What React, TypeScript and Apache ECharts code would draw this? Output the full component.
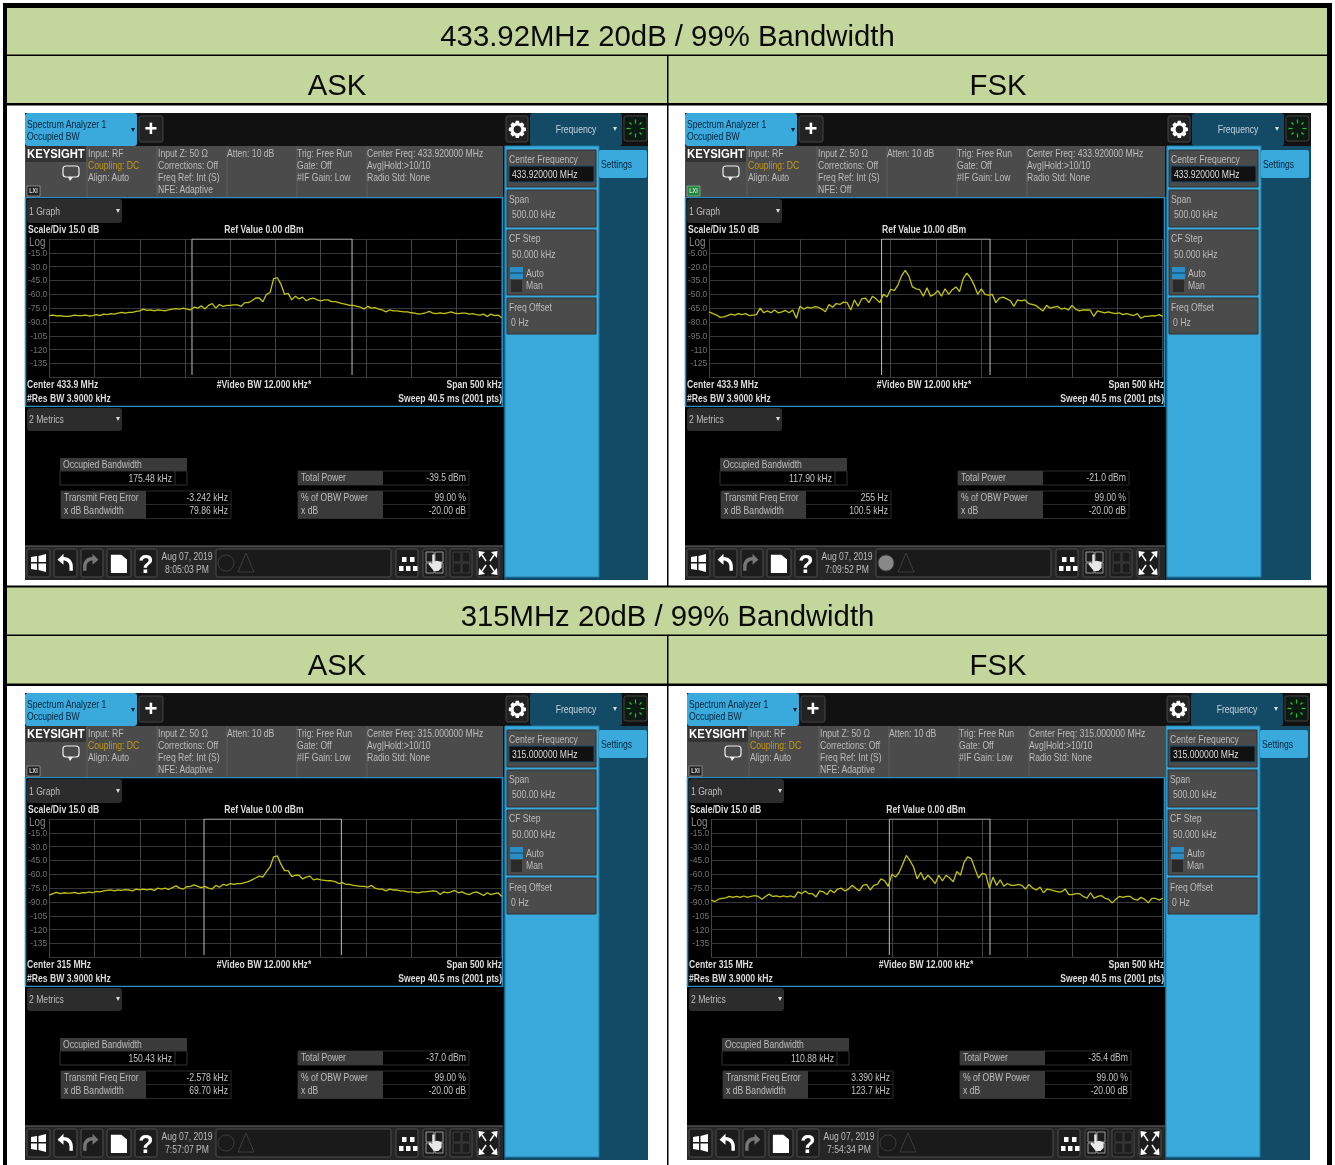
import React, { useEffect, useRef } from "react";
import * as echarts from "echarts";

// ---- data (dBm, evenly spaced across the 500 kHz span) ----
const trace433Ask = [
  -83,-82.5,-83.5,-83,-84,-84,-83.5,-82.5,-83,-83,-82.5,-83.5,-83,-82,-83,-81.5,-82,-81,-81.5,-80.5,
  -79.5,-80.5,-79.5,-79.5,-78.5,-78,-76,-77.5,-77,-78,-77,-77.5,-78,-77,-76,-75.5,-76,-75,-76,-77,
  -74,-75,-72.5,-76,-72,-70,-75,-71,-73,-72,-72,-71.5,-71.5,-73,-69,-69,-67,-64,-64,-68,
  -60,-58,-43,-42,-49,-60,-59,-66,-62,-65,-63,-67,-65,-64,-66,-67,-66,-66,-68,-68,
  -69,-70,-71,-72,-72,-73,-74,-76,-73,-75,-74.5,-76,-77,-79,-77,-78,-78,-78.5,-79,-79,
  -80,-80.5,-81.5,-81,-80,-78.5,-80.5,-81,-80,-81,-80,-79,-80.5,-81,-80.5,-80.5,-81.5,-81,-82,-82.5,
  -81.5,-84,-81.5,-83,-82.5,-85.5,
];
const trace433Fsk = [
  -69,-71,-72.5,-75,-74.5,-73,-71.5,-72.5,-71,-72,-71,-73,-72.5,-72,-65,-70,-68,-70,-67,-70,
  -69,-67.5,-70,-67,-76,-63,-66,-64,-65,-63.5,-64,-66,-69,-61,-64,-60,-61,-58.5,-59,-67,
  -56,-63,-55,-54,-59,-52,-55,-59,-50,-53,-44.5,-46,-40,-30,-24,-30,-42,-44,-45,-52,
  -43,-52,-50,-46,-52,-44,-50,-45,-42,-47,-33,-27,-32,-40,-50,-44,-50,-51,-50,-59,
  -54,-53,-55,-57,-63,-56,-57,-56,-60,-61,-62,-65,-68,-62,-65,-64,-63,-66,-65,-67,
  -62,-66,-68,-67,-67,-67,-74,-68,-69,-70,-69,-70,-71,-70,-72,-71,-72,-73,-71,-76,
  -74,-74,-73,-73.5,-72,-74,
];
const trace315Ask = [
  -82.5,-81,-79.5,-81,-80,-80.5,-80.5,-79.5,-81,-80,-80,-79,-80,-78.5,-79,-78,-77.5,-77,-78,-77,
  -77.5,-76.5,-77,-78,-76,-77,-76,-77,-76,-77.5,-75,-76,-75,-76.5,-74.5,-72.5,-75,-76,-73.5,-73,
  -71.5,-73,-74.5,-73,-75,-76,-72,-74,-71,-72,-70,-71,-70,-70,-69,-68,-66,-64,-62,-63,
  -57,-52,-41,-40,-49,-56,-56,-62.5,-61,-61,-65,-63,-62,-66,-65,-66,-66.5,-67,-67,-68,
  -70,-69,-71,-71,-72,-72.5,-73,-73,-74,-72,-75,-76,-76,-78,-76,-77,-77,-78,-78,-79,
  -79,-79.5,-80,-79,-79,-78.5,-78,-78.5,-82,-79,-80,-79,-77.5,-80,-79,-81,-82,-80,-79,-81,
  -83,-80,-82,-81,-80,-84,
];
const trace315Fsk = [
  -88,-89.5,-87,-86,-85.5,-84,-85,-84,-85,-83.5,-85,-84,-83,-84,-87,-84,-81.5,-84,-83.5,-84.5,
  -83.5,-84.5,-83.5,-85,-79,-81,-78,-81,-81,-84.5,-78,-79,-82,-77,-80,-76,-75,-78,-76,-72,
  -75,-78,-72,-71,-77,-72,-71,-65,-67,-73,-60,-63,-58,-49,-39.5,-45,-52,-65,-58,-66,
  -61,-65,-70,-61,-67,-61,-64,-68,-57,-61,-47,-41,-43,-54,-64,-59,-60,-75,-63,-72,
  -66,-73,-70,-72,-72,-71,-72,-76,-71,-75,-77,-74,-80,-76,-77,-78,-79,-79,-76,-82,
  -82,-81,-81,-84,-86,-80,-86,-84,-83,-86,-87,-91,-87,-84,-85,-84,-84,-87,-88,-85,
  -87,-91,-86,-86,-88,-86,
];
const ticksRef0 = ["", "-15.0", "-30.0", "-45.0", "-60.0", "-75.0", "-90.0", "-105", "-120", "-135", ""];
const ticksRef10 = ["", "-5.00", "-20.0", "-35.0", "-50.0", "-65.0", "-80.0", "-95.0", "-110", "-125", ""];
const obw433Ask = [-92.3, 84.6];
const obw433Fsk = [-60, 59.6];
const obw315Ask = [-79, 72.8];
const obw315Fsk = [-52.8, 58.7];
const tableTitles = ["433.92MHz 20dB / 99% Bandwidth", "315MHz 20dB / 99% Bandwidth"];
const modulations = ["ASK", "FSK"];

type P = {
  dxL: number; dxR: number; dy: number; right: number; plotL: number; plotR: number; winR: number;
  data: number[]; ref: number; ticks: string[]; obw: number[];
  mhz: string; cfText: string; nfe: string; refText: string;
  occ: string; power: string; err: string; xdb: string; time: string; lxiGreen?: boolean; bubble?: boolean;
};
const panels: P[] = [
  { dxL: 0, dxR: 0, dy: 0, right: 648, plotL: 49.3, plotR: 501.7, winR: 503, data: trace433Ask, ref: 0, ticks: ticksRef0, obw: obw433Ask,
    mhz: "433.9", cfText: "433.920000", nfe: "Adaptive", refText: "Ref Value 0.00 dBm",
    occ: "175.48 kHz", power: "-39.5 dBm", err: "-3.242 kHz", xdb: "79.86 kHz", time: "8:05:03 PM" },
  { dxL: 660, dxR: 662, dy: 0, right: 1311, plotL: 709.3, plotR: 1162.7, winR: 1165, data: trace433Fsk, ref: 10, ticks: ticksRef10, obw: obw433Fsk,
    mhz: "433.9", cfText: "433.920000", nfe: "Off", refText: "Ref Value 10.00 dBm",
    occ: "117.90 kHz", power: "-21.0 dBm", err: "255 Hz", xdb: "100.5 kHz", time: "7:09:52 PM", lxiGreen: true, bubble: true },
  { dxL: 0, dxR: 0, dy: 580, right: 648, plotL: 49.3, plotR: 501.7, winR: 503, data: trace315Ask, ref: 0, ticks: ticksRef0, obw: obw315Ask,
    mhz: "315", cfText: "315.000000", nfe: "Adaptive", refText: "Ref Value 0.00 dBm",
    occ: "150.43 kHz", power: "-37.0 dBm", err: "-2.578 kHz", xdb: "69.70 kHz", time: "7:57:07 PM" },
  { dxL: 662, dxR: 661, dy: 580, right: 1310, plotL: 711.3, plotR: 1162.7, winR: 1165, data: trace315Fsk, ref: 0, ticks: ticksRef0, obw: obw315Fsk,
    mhz: "315", cfText: "315.000000", nfe: "Adaptive", refText: "Ref Value 0.00 dBm",
    occ: "110.88 kHz", power: "-35.4 dBm", err: "3.390 kHz", xdb: "123.7 kHz", time: "7:54:34 PM" },
];

// ---- icons ----
const G = echarts.graphic as any;
G.registerShape("kUndo", G.extendPath("M3 9 L10 2 L10 6 C17 6 21 11 21 17 L21 22 L17 22 L17 17 C17 13 14 10 10 10 L10 15 Z", {}));
G.registerShape("kFolder", G.extendPath("M3 3 H14 L20 8 V22 H3 Z", {}));
G.registerShape("kGear", G.extendPath("M10 1 H14 L15 4.5 L18 3 L21 6 L19.5 9 L23 10 V14 L19.5 15 L21 18 L18 21 L15 19.5 L14 23 H10 L9 19.5 L6 21 L3 18 L4.5 15 L1 14 V10 L4.5 9 L3 6 L6 3 L9 4.5 Z", {}));
G.registerShape("kHand", G.extendPath("M8 2 L11 2 L11 11 L14 10 L20 12 L20 19 L16 23 L10 23 L3 14 L5 12 L8 14 Z", {}));

const A = '"Liberation Sans",Arial,sans-serif';
const NARROW = 0.82;
const T = (x: number, y: number, text: string, o: any = {}) => ({
  type: "text", x, y, z: o.z ?? 10, silent: true, scaleX: o.sx ?? NARROW,
  style: { text, fill: o.c ?? "#bcbcbc", fontFamily: A, fontSize: o.s ?? 10.5, fontWeight: o.b ? "bold" : "normal", align: o.a ?? "left", verticalAlign: "middle" },
});
const R = (x: number, y: number, w: number, h: number, fill: string, o: any = {}) => ({
  type: "rect", z: o.z ?? 1, silent: true, shape: { x, y, width: w, height: h, r: o.r ?? 0 },
  style: { fill, stroke: o.st ?? null, lineWidth: o.lw ?? 1 },
});
const L = (x1: number, y1: number, x2: number, y2: number, stroke: string, lw = 1, z = 3) => ({
  type: "line", z, silent: true, shape: { x1, y1, x2, y2 }, style: { stroke, lineWidth: lw },
});
const PG = (pts: number[][], fill: string, z = 5) => ({ type: "polygon", z, silent: true, shape: { points: pts }, style: { fill } });
const ICON = (name: string, x: number, y: number, s: number, fill: string, sx?: number) => ({
  type: name, x, y, scaleX: sx ?? s, scaleY: s, z: 5, silent: true, style: { fill },
});

function buildTable() {
  const e: any[] = [];
  const black = "#000";
  e.push(R(3, 3, 1329, 1162, black, { z: 0 }));
  e.push(R(7, 8, 1320, 46.5, "#c3d69b", { z: 0 }));
  e.push(R(7, 56, 660, 47, "#c3d69b", { z: 0 }));
  e.push(R(668.5, 56, 658.5, 47, "#c3d69b", { z: 0 }));
  e.push(R(7, 105.5, 660, 480, "#fff", { z: 0 }));
  e.push(R(668.5, 105.5, 658.5, 480, "#fff", { z: 0 }));
  e.push(R(7, 587.5, 1320, 47, "#c3d69b", { z: 0 }));
  e.push(R(7, 636, 660, 47.5, "#c3d69b", { z: 0 }));
  e.push(R(668.5, 636, 658.5, 47.5, "#c3d69b", { z: 0 }));
  e.push(R(7, 686, 660, 479, "#fff", { z: 0 }));
  e.push(R(668.5, 686, 658.5, 479, "#fff", { z: 0 }));
  const big = { s: 29.3, sx: 1, c: "#0a0a0a", a: "center", z: 2 };
  e.push(T(667.5, 35, tableTitles[0], big));
  e.push(T(337, 84, modulations[0], big));
  e.push(T(998, 84, modulations[1], big));
  e.push(T(667.5, 615, tableTitles[1], big));
  e.push(T(337, 664, modulations[0], big));
  e.push(T(998, 664, modulations[1], big));
  return e;
}

function buildPanel(p: P) {
  const e: any[] = [];
  const X = (x: number) => x + p.dxL;
  const XR = (x: number) => x + p.dxR;
  const Y = (y: number) => y + p.dy;
  const leftW = p.winR - X(25);
  const blue = "#3aa9dc", teal = "#134a66", gray = "#4b4b4b";
  // frame
  e.push(R(X(25), Y(113), p.right - X(25), 467, "#111"));
  e.push(R(X(25), Y(113), 112, 33, blue, { r: 3 }));
  e.push(T(X(27), Y(124), "Spectrum Analyzer 1", { c: "#07233a" }));
  e.push(T(X(27), Y(136), "Occupied BW", { c: "#07233a" }));
  e.push(PG([[X(131), Y(128)], [X(135), Y(128)], [X(133), Y(132)]], "#10202a"));
  e.push(R(X(139), Y(116), 24, 26, "#222", { st: "#444", r: 2, z: 2 }));
  e.push(T(X(151), Y(128.5), "+", { s: 22, sx: 1, b: true, c: "#fff", a: "center" }));
  // gear, frequency tab, spinner
  e.push(R(XR(506), Y(116), 22, 26, "#222", { st: "#444", r: 2, z: 2 }));
  e.push(ICON("kGear", XR(508), Y(120), 0.78, "#fff"));
  e.push({ type: "circle", z: 6, silent: true, shape: { cx: XR(517.4), cy: Y(129.4), r: 3.8 }, style: { fill: "#222" } });
  e.push(R(XR(530), Y(113), 92, 33, teal, { r: 3 }));
  e.push(T(XR(576), Y(129), "Frequency", { a: "center", c: "#c8d4dc" }));
  e.push(PG([[XR(613), Y(127)], [XR(617), Y(127)], [XR(615), Y(131)]], "#ddd"));
  e.push(R(XR(624), Y(116), 23, 25, "#0d1a12", { st: "#444", r: 2, z: 2 }));
  const spin = [[0, -9, 0, -5], [6, -6, 4, -4], [9, 0, 5, 0], [6, 6, 4, 4], [0, 9, 0, 5], [-6, 6, -4, 4], [-9, 0, -5, 0], [-6, -6, -4, -4]];
  spin.forEach((s) => e.push(L(XR(635.5) + s[0], Y(128.5) + s[1], XR(635.5) + s[2], Y(128.5) + s[3], "#22c43a", 1.2, 4)));
  // right column
  e.push(R(XR(504), Y(146), p.right - XR(504), 434, teal));
  e.push(R(XR(505), Y(146), 94, 431, blue, { z: 2, st: "#1f7ea8" }));
  e.push(R(XR(599), Y(150), 48, 28, blue, { z: 2, r: 2 }));
  e.push(T(XR(601), Y(164), "Settings", { c: "#07233a" }));
  const cell = (y: number, h: number) => e.push(R(XR(507), Y(y), 89, h, gray, { z: 3, st: "#333" }));
  cell(150, 37); cell(190, 37); cell(230, 65); cell(298, 36);
  e.push(T(XR(509), Y(159), "Center Frequency"));
  e.push(R(XR(509), Y(166), 85, 16, "#111", { z: 4, st: "#1d4d6b" }));
  e.push(T(XR(512), Y(174), p.cfText + " MHz", { c: "#ddd" }));
  e.push(T(XR(509), Y(199), "Span"));
  e.push(T(XR(512), Y(214), "500.00 kHz"));
  e.push(T(XR(509), Y(238), "CF Step"));
  e.push(T(XR(512), Y(254), "50.000 kHz"));
  e.push(R(XR(510), Y(267), 13, 12, "#2a8ec4", { z: 4 }));
  e.push(L(XR(510), Y(273), XR(523), Y(273), "#0f3c58", 1, 5));
  e.push(T(XR(526), Y(273), "Auto"));
  e.push(R(XR(511), Y(280), 11, 12, "#2a2a2a", { z: 4 }));
  e.push(T(XR(526), Y(285), "Man"));
  e.push(T(XR(509), Y(307), "Freq Offset"));
  e.push(T(XR(511), Y(322), "0 Hz"));
  // info bar
  e.push(R(X(25), Y(146), leftW, 51, gray, { z: 2 }));
  [87, 157, 227, 297, 367].forEach((x) => e.push(L(X(x), Y(146), X(x), Y(197), "#5f5f5f", 1)));
  e.push(R(X(26), Y(146), 60, 16, "#333", { z: 2.5 }));
  e.push(T(X(27), Y(154), "KEYSIGHT", { s: 13, sx: 0.87, b: true, c: "#fff" }));
  e.push(R(X(63), Y(166), 16, 11, "#4b4b4b", { z: 4, st: "#eee", r: 3, lw: 1.2 }));
  e.push(PG([[X(68), Y(177)], [X(73), Y(177)], [X(70), Y(181)]], "#eee"));
  e.push(R(X(27), Y(186), 13, 10, p.lxiGreen ? "#1d8a3a" : "#222", { z: 4, st: "#ccc", lw: 0.5 }));
  e.push(T(X(33.5), Y(191), "LXI", { s: 6.5, a: "center", c: "#ddd", b: true }));
  e.push(T(X(88), Y(153), "Input: RF"));
  e.push(T(X(88), Y(165), "Coupling: DC", { c: "#c79a12" }));
  e.push(T(X(88), Y(177), "Align: Auto"));
  e.push(T(X(158), Y(153), "Input Z: 50 Ω"));
  e.push(T(X(158), Y(165), "Corrections: Off"));
  e.push(T(X(158), Y(177), "Freq Ref: Int (S)"));
  e.push(T(X(158), Y(189), "NFE: " + p.nfe));
  e.push(T(X(227), Y(153), "Atten: 10 dB"));
  e.push(T(X(297), Y(153), "Trig: Free Run"));
  e.push(T(X(297), Y(165), "Gate: Off"));
  e.push(T(X(297), Y(177), "#IF Gain: Low"));
  e.push(T(X(367), Y(153), "Center Freq: " + p.cfText + " MHz"));
  e.push(T(X(367), Y(165), "Avg|Hold:>10/10"));
  e.push(T(X(367), Y(177), "Radio Std: None"));
  // graph window
  e.push(R(X(25.5), Y(197.5), leftW - 1, 209, "#000", { z: 1.5, st: "#2c8fc4", lw: 1.6 }));
  e.push(R(X(27), Y(199), 95, 24, "#2c2c2c", { z: 2, r: 3 }));
  e.push(T(X(29), Y(211), "1 Graph"));
  e.push(PG([[X(116), Y(209)], [X(120), Y(209)], [X(118), Y(213)]], "#ddd"));
  const w = { b: true, c: "#dcdcdc", s: 10.5 };
  e.push(T(X(28), Y(229), "Scale/Div 15.0 dB", w));
  e.push(T(X(264), Y(229), p.refText, { ...w, a: "center" }));
  e.push(T(X(29), Y(241.5), "Log", { s: 12, c: "#8a8a8a" }));
  e.push(T(X(27), Y(384), "Center " + p.mhz + " MHz", w));
  e.push(T(X(27), Y(398), "#Res BW 3.9000 kHz", w));
  e.push(T(X(264), Y(384), "#Video BW 12.000 kHz*", { ...w, a: "center" }));
  e.push(T(p.winR - 1, Y(384), "Span 500 kHz", { ...w, a: "right" }));
  e.push(T(p.winR - 1, Y(398), "Sweep 40.5 ms (2001 pts)", { ...w, a: "right" }));
  // metrics
  e.push(R(X(25), Y(407), leftW, 139, "#000", { z: 1.5 }));
  e.push(R(X(27), Y(408), 95, 23, "#2c2c2c", { z: 2, r: 3 }));
  e.push(T(X(29), Y(419), "2 Metrics"));
  e.push(PG([[X(116), Y(417)], [X(120), Y(417)], [X(118), Y(421)]], "#ddd"));
  e.push(R(X(60), Y(458), 127, 13, "#3a3a3a", { z: 2 }));
  e.push(T(X(63), Y(464.5), "Occupied Bandwidth"));
  e.push(R(X(60), Y(471), 127, 14, "#000", { z: 2, st: "#333" }));
  e.push(L(X(175), Y(471), X(175), Y(485), "#333"));
  e.push(T(X(172), Y(478), p.occ, { a: "right", c: "#c4c4c4" }));
  const table = (x: number, lw: number, tw: number, y: number, label: string, value: string) => {
    e.push(R(X(x), Y(y), tw, 14, "#000", { z: 2, st: "#2b2b2b" }));
    e.push(R(X(x), Y(y), lw, 14, "#3a3a3a", { z: 2.5 }));
    e.push(T(X(x + 3), Y(y + 6), label));
    e.push(T(X(x + tw - 3), Y(y + 6), value, { a: "right", c: "#c4c4c4" }));
  };
  table(61, 85, 170, 491, "Transmit Freq Error", p.err);
  table(61, 85, 170, 504.5, "x dB Bandwidth", p.xdb);
  table(298, 85, 171, 471, "Total Power", p.power);
  table(298, 85, 171, 491, "% of OBW Power", "99.00 %");
  table(298, 85, 171, 504.5, "x dB", "-20.00 dB");
  // bottom bar
  e.push(R(X(25), Y(546), leftW, 34, "#262626", { z: 1.6 }));
  e.push(L(X(25), Y(546), p.winR, Y(546), "#6a6a6a", 1));
  const btn = (x: number, w2: number) => e.push(R(X(x), Y(549), w2, 28, "#1c1c1c", { z: 2, st: "#4c4c4c", r: 2 }));
  [[27, 23], [54, 23], [81, 22], [107, 24], [135, 22], [396, 22], [423, 23], [450, 22], [477, 22]].forEach((b) => btn(b[0], b[1]));
  e.push(PG([[X(31), Y(557)], [X(37), Y(556)], [X(37), Y(562)], [X(31), Y(562)]], "#fff"));
  e.push(PG([[X(38.5), Y(556)], [X(46), Y(554)], [X(46), Y(562)], [X(38.5), Y(562)]], "#fff"));
  e.push(PG([[X(31), Y(563.5)], [X(37), Y(563.5)], [X(37), Y(570)], [X(31), Y(569)]], "#fff"));
  e.push(PG([[X(38.5), Y(563.5)], [X(46), Y(563.5)], [X(46), Y(572)], [X(38.5), Y(570)]], "#fff"));
  e.push(ICON("kUndo", X(55), Y(552), 0.85, "#fff"));
  e.push(ICON("kUndo", X(101), Y(552), 0.85, "#777", -0.85));
  e.push(ICON("kFolder", X(108), Y(552), 0.95, "#fff"));
  e.push(T(X(146), Y(563.5), "?", { s: 25, sx: 1, b: true, c: "#fff", a: "center" }));
  e.push(T(X(187), Y(556.5), "Aug 07, 2019", { a: "center" }));
  e.push(T(X(187), Y(569), p.time, { a: "center" }));
  e.push(R(X(216), Y(549), 175, 28, "#1a1a1a", { z: 2, st: "#4c4c4c", r: 2 }));
  e.push({ type: "circle", z: 4, silent: true, shape: { cx: X(226), cy: Y(563), r: 8 }, style: { fill: p.bubble ? "#888" : null, stroke: "#3d3d3d" } });
  e.push({ type: "polygon", z: 4, silent: true, shape: { points: [[X(246), Y(553)], [X(238), Y(572)], [X(254), Y(572)]] }, style: { fill: null, stroke: "#3d3d3d" } });
  [[402, 557], [410, 557], [399, 566], [406, 566], [413, 566]].forEach((d) => e.push(R(X(d[0]), Y(d[1]), 4.5, 5, "#fff", { z: 4 })));
  [[426, 552], [435, 552], [426, 563], [435, 563]].forEach((d) => e.push(R(X(d[0]), Y(d[1]), 8, 10, "#1c1c1c", { z: 3, st: "#999" })));
  e.push(ICON("kHand", X(426), Y(553), 0.78, "#e8e8e8"));
  [[453, 552], [462, 552], [453, 563], [462, 563]].forEach((d) => e.push(R(X(d[0]), Y(d[1]), 8, 10, "#1c1c1c", { z: 3, st: "#3d3d3d" })));
  const cx = X(488), cy = Y(563);
  [[-1, -1], [1, -1], [-1, 1], [1, 1]].forEach(([a, b]) => {
    e.push(PG([[cx + a * 9.5, cy + b * 12], [cx + a * 3, cy + b * 11], [cx + a * 9, cy + b * 5]], "#fff"));
    e.push(L(cx + a * 2, cy + b * 2, cx + a * 6, cy + b * 8, "#fff", 1.4, 4));
  });
  return e;
}

export default function App() {
  const ref = useRef<HTMLDivElement>(null);
  useEffect(() => {
    document.body.style.margin = "0";
    const chart = echarts.init(ref.current!, null, { renderer: "svg", width: 1335, height: 1165 });
    const grids = panels.map((p) => ({
      left: p.plotL, width: p.plotR - p.plotL, top: 239 + p.dy, height: 138.3, show: false, containLabel: false,
    }));
    const xAxes = panels.map((_, i) => ({
      type: "value", gridIndex: i, min: -250, max: 250, interval: 50, z: 3,
      axisLine: { show: false }, axisTick: { show: false }, axisLabel: { show: false },
      splitLine: { show: true, lineStyle: { color: "#444444", width: 1 } },
    }));
    const yAxes = panels.map((p, i) => ({
      type: "value", gridIndex: i, min: p.ref - 150, max: p.ref, interval: 15, z: 3,
      axisLine: { show: false }, axisTick: { show: false },
      axisLabel: {
        show: true, color: "#747474", fontSize: 8.5, fontFamily: A, margin: 2,
        formatter: (v: number) => p.ticks[Math.round((p.ref - v) / 15)] ?? "",
      },
      splitLine: { show: true, lineStyle: { color: "#363636", width: 1 } },
    }));
    const traces = panels.map((p, i) => ({
      type: "line", name: "trace" + i, xAxisIndex: i, yAxisIndex: i, showSymbol: false, symbol: "none", z: 5,
      lineStyle: { color: "#c4c410", width: 1.3 }, silent: true,
      data: p.data.map((v, k) => [-250 + (500 * k) / (p.data.length - 1), v]),
    }));
    const brackets = panels.map((p, i) => ({
      type: "line", name: "obw" + i, xAxisIndex: i, yAxisIndex: i, showSymbol: false, symbol: "none", z: 4,
      lineStyle: { color: "#bdbdbd", width: 1 }, silent: true,
      data: [[p.obw[0], p.ref - 147.5], [p.obw[0], p.ref], [p.obw[1], p.ref], [p.obw[1], p.ref - 147.5]],
    }));
    chart.setOption({
      animation: false,
      backgroundColor: "#ffffff",
      tooltip: { show: false },
      grid: grids,
      xAxis: xAxes,
      yAxis: yAxes,
      series: [...brackets, ...traces],
      graphic: { elements: [...buildTable(), ...panels.flatMap(buildPanel)] },
    });
    return () => chart.dispose();
  }, []);
  return <div ref={ref} style={{ position: "absolute", left: 0, top: 0, width: 1335, height: 1165, filter: "blur(0.3px)" }} />;
}
